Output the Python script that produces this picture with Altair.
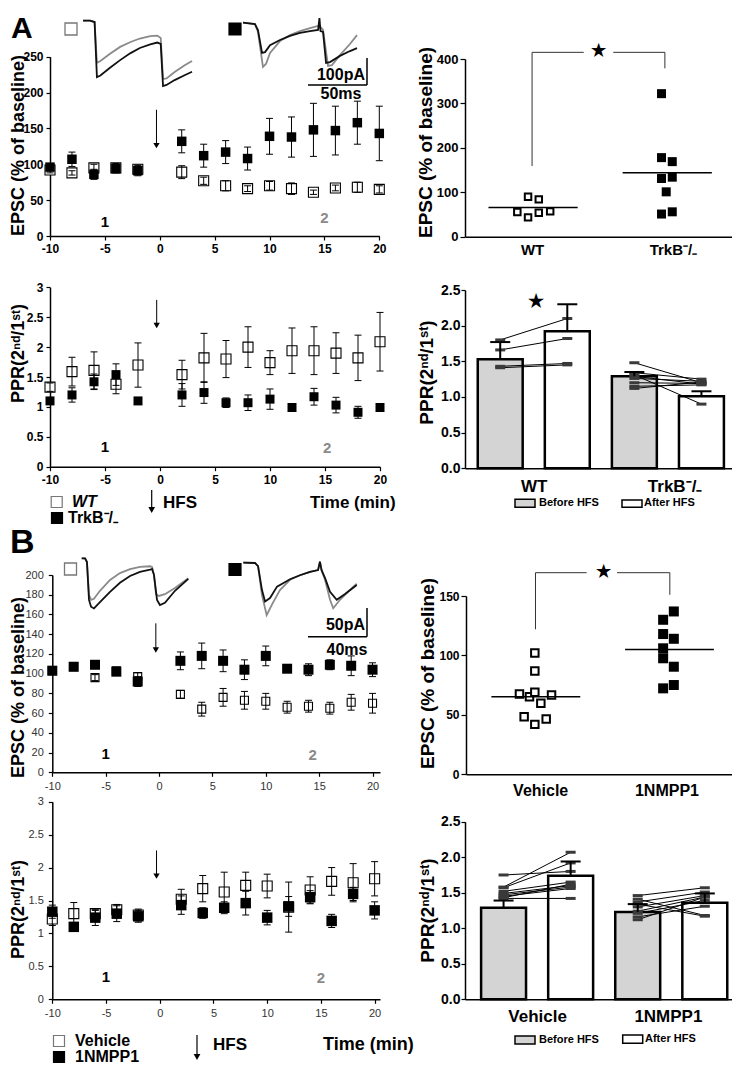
import altair as alt
import pandas as pd

FONT = "Liberation Sans"
W, H = 724, 1056
ONE = alt.InlineData(values=[{"k": 0}])

# ---------------- data ----------------
TIME = [-10, -8, -6, -4, -2, 2, 4, 6, 8, 10, 12, 14, 16, 18, 20]

A_EPSC_WT = [92, 88, 95, 95, 93, 89, 77, 70, 66, 70, 66, 61, 67, 68, 65]
A_EPSC_WT_SEM = [4, 3, 5, 6, 6, 9, 5, 7, 4, 6, 8, 3, 4, 7, 5]
A_EPSC_KO = [96, 107, 86, 94, 91, 132, 112, 117, 108, 139, 138, 148, 147, 158, 143]
A_EPSC_KO_SEM = [3, 10, 7, 6, 7, 16, 16, 16, 16, 25, 28, 37, 34, 30, 38]

A_PPR_WT = [1.33, 1.59, 1.61, 1.38, 1.70, 1.54, 1.82, 1.80, 2.00, 1.74, 1.94, 1.94, 1.90, 1.82, 2.09]
A_PPR_WT_SEM = [0.07, 0.24, 0.31, 0.16, 0.37, 0.24, 0.41, 0.31, 0.34, 0.20, 0.38, 0.40, 0.34, 0.38, 0.49]
A_PPR_KO = [1.10, 1.20, 1.42, 1.54, 1.10, 1.20, 1.24, 1.07, 1.07, 1.13, 0.99, 1.17, 1.03, 0.91, 0.99]
A_PPR_KO_SEM = [0.04, 0.12, 0.13, 0.18, 0.03, 0.19, 0.18, 0.08, 0.13, 0.17, 0.03, 0.14, 0.13, 0.10, 0.03]

B_EPSC_VEH = [103, 107, 96, 103, 97, 79, 64, 76, 73, 72, 66, 67, 65, 71, 70]
B_EPSC_VEH_SEM = [2, 2, 3, 2, 4, 4, 7, 9, 9, 8, 6, 6, 6, 8, 10]
B_EPSC_NM = [103, 107, 109, 102, 92, 113, 118, 113, 104, 118, 105, 104, 109, 108, 104]
B_EPSC_NM_SEM = [3, 3, 2, 2, 5, 9, 13, 11, 10, 10, 2, 6, 5, 10, 7]

B_PPR_VEH = [1.22, 1.30, 1.30, 1.36, 1.28, 1.52, 1.68, 1.63, 1.73, 1.72, 1.40, 1.66, 1.79, 1.77, 1.83]
B_PPR_VEH_SEM = [0.10, 0.17, 0.05, 0.08, 0.09, 0.15, 0.20, 0.30, 0.20, 0.18, 0.38, 0.20, 0.21, 0.29, 0.26]
B_PPR_NM = [1.33, 1.10, 1.24, 1.30, 1.26, 1.43, 1.31, 1.39, 1.46, 1.24, 1.41, 1.55, 1.19, 1.60, 1.35]
B_PPR_NM_SEM = [0.10, 0.04, 0.12, 0.12, 0.09, 0.14, 0.08, 0.09, 0.18, 0.11, 0.15, 0.10, 0.10, 0.10, 0.13]

# individual cells (scatter)
A_SC_WT = [90, 84, 55.5, 43.5, 54, 57]
A_SC_WT_DX = [-0.06, 0.10, -0.22, -0.06, 0.10, 0.27]
A_SC_KO = [322, 178, 169, 131, 134, 101, 51, 56]
A_SC_KO_DX = [-0.07, -0.07, 0.09, -0.07, 0.09, 0.0, -0.07, 0.09]
A_SC_MED = [66, 144]
B_SC_VEH = [102, 87, 67.6, 65.3, 69, 59.7, 66.7, 48.5, 46.5, 42]
B_SC_VEH_DX = [0, 0, -0.23, -0.08, 0, 0.09, 0.25, -0.16, 0.17, 0]
B_SC_NM = [137, 130, 118, 114, 106, 97.6, 90.5, 72.3, 75.1]
B_SC_NM_DX = [0.08, -0.08, -0.08, 0.08, -0.08, -0.08, 0.08, -0.08, 0.08]
B_SC_MED = [65.3, 105]

# PPR bars (before / after HFS)
A_BAR = [1.53, 1.92, 1.29, 1.01]
A_BAR_SEM = [0.24, 0.38, 0.06, 0.07]
A_PAIR_WT_PRE = [1.80, 1.66, 1.43, 1.41]
A_PAIR_WT_POST = [2.10, 1.82, 1.47, 1.45]
A_PAIR_KO_PRE = [1.48, 1.34, 1.31, 1.29, 1.26, 1.20, 1.15, 1.12]
A_PAIR_KO_POST = [1.20, 1.25, 0.90, 1.18, 1.22, 1.19, 1.17, 1.21]
B_BAR = [1.29, 1.74, 1.23, 1.36]
B_BAR_SEM = [0.10, 0.20, 0.11, 0.13]
B_PAIR_VEH_PRE = [1.75, 1.58, 1.57, 1.52, 1.49, 1.47, 1.45, 1.43, 1.42]
B_PAIR_VEH_POST = [1.80, 2.07, 1.92, 1.65, 1.60, 1.58, 1.56, 1.62, 1.42]
B_PAIR_NM_PRE = [1.46, 1.41, 1.37, 1.34, 1.30, 1.24, 1.21, 1.16, 1.12]
B_PAIR_NM_POST = [1.57, 1.18, 1.51, 1.17, 1.46, 1.44, 1.39, 1.31, 1.44]

# example EPSC traces (ms, pA)
TR_A_WT_T = [0, 6, 10, 12, 15, 23, 32, 41, 49, 58, 64, 67, 69, 72, 79, 88, 94]
TR_A_WT_BLACK = [0, 0, -5, -209, -203, -175, -146, -120, -101, -88, -81, -86, -242, -238, -220, -201, -189]
TR_A_WT_GRAY = [0, 0, -5, -156, -149, -123, -97, -79, -66, -57, -55, -64, -216, -214, -190, -164, -149]

TR_A_KO_BT = [0, 10.3, 12.9, 16.4, 19, 23.3, 31.9, 40.5, 49.1, 57.8, 64.7, 65.9, 66.8, 69, 71.6, 75, 83.6, 92.2, 98.3]
TR_A_KO_BLACK = [0, -5, -27, -112, -109, -83, -64, -49, -38, -31, -27, 17, -31, -34, -149, -146, -123, -105, -94]
TR_A_KO_GT = [0, 10.3, 12.9, 17.2, 19.8, 23.3, 31.9, 40.5, 49.1, 57.8, 64.7, 66.8, 69, 73.3, 76.7, 83.6, 92.2, 98.3]
TR_A_KO_GRAY = [0, -5, -34, -164, -153, -112, -68, -46, -31, -20, -12, -16, -27, -160, -157, -120, -79, -46]

TR_B_VEH_BT = [0, 2.3, 3.6, 5, 6.4, 8.4, 12.5, 19.4, 26.2, 33.1, 39.9, 46.8, 48.2, 49.5, 51.6, 53.6, 57, 63.9, 73]
TR_B_VEH_BLACK = [0, 0, -6.5, -73, -85, -88, -77, -59, -43, -31, -24, -20, -19, -29, -73, -82, -78, -57, -36]
TR_B_VEH_GT = [0, 2.3, 3.6, 5, 6.4, 8.4, 12.5, 19.4, 26.2, 33.1, 39.9, 46.8, 48.2, 49.5, 50.9, 52.9, 57, 63.9, 73]
TR_B_VEH_GRAY = [0, 0, -6.5, -64, -73, -71, -57, -38, -26, -19, -15, -14, -15, -29, -63, -66, -63, -52, -35]

TR_B_NM_BT = [0, 8, 10.1, 12.8, 14.9, 18.3, 23.1, 32, 38.8, 45.7, 51.2, 52.5, 53.6, 56, 59.4, 64, 69.7, 77.7]
TR_B_NM_BLACK = [0, -0.5, -6, -48, -68, -62, -42, -29, -22, -16, -13, 2, -13, -27, -51, -65, -55, -39]
TR_B_NM_GT = [0, 8, 10.1, 12.8, 16, 19.7, 25.1, 32, 38.8, 45.7, 51.2, 52.5, 53.6, 56, 59.4, 61.6, 66.2, 71.7, 77.7]
TR_B_NM_GRAY = [0, -0.5, -6, -57, -92, -73, -48, -30, -22, -16, -13, 1, -13, -30, -65, -80, -65, -51, -37]

EPSC_TITLE = "EPSC (% of baseline)"
PPR_TITLE = "PPR(2\u207f\u1d48/1\u02e2\u1d57)"
KO = "TrkB\u207b/\u208b"


# ---------------- helpers ----------------
def scale(dom, rng):
    return alt.Scale(domain=dom, range=rng, nice=False, zero=False)


def left_axis(x0, values, fmt, title, tx, ty, lsize, bold=True, lcolor="black", tsize=4, lpad=3, tfs=19):
    return alt.Axis(orient="left", offset=-x0, values=values, format=fmt, title=title,
                    titleX=tx, titleY=ty, titleAngle=270, titleAlign="center", titleBaseline="middle",
                    titleFont=FONT, titleFontSize=tfs, titleFontWeight="bold", titleColor="black",
                    labelFont=FONT, labelFontSize=lsize, labelFontWeight="bold" if bold else "normal",
                    labelColor=lcolor, labelPadding=lpad, labelFlush=False, labelOverlap=False,
                    domainColor="black", domainWidth=1.5, tickColor="black", tickSize=tsize,
                    tickWidth=1.2, grid=False)


def bottom_axis(y0, values, lsize, bold=True, lcolor="black", tsize=4, lpad=2, expr="datum.value + ''"):
    kw = dict(orient="bottom", offset=y0 - H, values=values, title="", labelFont=FONT,
              labelFontSize=lsize, labelFontWeight="bold" if bold else "normal", labelColor=lcolor,
              labelPadding=lpad, labelFlush=False, labelOverlap=False, domainColor="black",
              domainWidth=1.5, grid=False, labelExpr=expr)
    if tsize > 0:
        kw.update(ticks=True, tickSize=tsize, tickColor="black", tickWidth=1.2)
    else:
        kw.update(ticks=False, tickSize=0)
    return alt.Axis(**kw)


class P:
    """Panel scales + axes, shared by every layer of a panel."""
    def __init__(self, xs, ys, xa, ya):
        self.xs, self.ys, self.xa, self.ya = xs, ys, xa, ya

    def X(self, f):
        return alt.X(f, scale=self.xs, axis=self.xa)

    def Y(self, f):
        return alt.Y(f, scale=self.ys, axis=self.ya)

    def XD(self, v):
        return alt.XDatum(v, scale=self.xs, axis=self.xa)

    def YD(self, v):
        return alt.YDatum(v, scale=self.ys, axis=self.ya)


def dtext(p, s, x, y, size=15, color="black"):
    return alt.Chart(ONE).mark_text(text=s, font=FONT, fontSize=size, fontWeight="bold", color=color,
                                    align="center", baseline="middle").encode(x=p.XD(x), y=p.YD(y))


def time_panel(p, om, os_, fm, fs, osize, fsize, arrow, l1, l2):
    n = len(TIME)
    df = pd.DataFrame({"t": TIME + TIME, "m": om + fm, "s": os_ + fs, "g": ["o"] * n + ["f"] * n})
    base = alt.Chart(df).transform_calculate(lo="datum.m - datum.s", hi="datum.m + datum.s")
    opn = base.transform_filter("datum.g == 'o'").mark_square(
        size=osize, fill="white", stroke="black", strokeWidth=1.1, opacity=1).encode(
        x=p.X("t:Q"), y=p.Y("m:Q"))
    err = base.mark_rule(color="black", strokeWidth=1).encode(x=p.X("t:Q"), y=p.Y("lo:Q"), y2="hi:Q")
    cap1 = base.mark_tick(orient="horizontal", size=7, thickness=1, color="black", opacity=1).encode(
        x=p.X("t:Q"), y=p.Y("lo:Q"))
    cap2 = base.mark_tick(orient="horizontal", size=7, thickness=1, color="black", opacity=1).encode(
        x=p.X("t:Q"), y=p.Y("hi:Q"))
    fil = base.transform_filter("datum.g == 'f'").mark_square(size=fsize, color="black", opacity=1).encode(
        x=p.X("t:Q"), y=p.Y("m:Q"))
    aline = alt.Chart(ONE).mark_rule(color="black", strokeWidth=1).encode(
        x=p.XD(-0.3), y=p.YD(arrow[0]), y2=alt.Y2Datum(arrow[1]))
    ahead = alt.Chart(ONE).mark_point(shape="triangle-down", filled=True, size=40, color="black",
                                      opacity=1).encode(x=p.XD(-0.3), y=p.YD(arrow[1]))
    t1 = dtext(p, "1", l1[0], l1[1])
    t2 = dtext(p, "2", l2[0], l2[1], color="#8a8a8a")
    return alt.layer(opn, err, cap1, cap2, fil, aline, ahead, t1, t2)


def scatter_panel(p, va, dxa, vb, dxb, med, osize, fsize, segs, star):
    df = pd.DataFrame({"p": [1] * len(va) + [3] * len(vb), "dx": dxa + dxb, "v": va + vb,
                       "g": ["o"] * len(va) + ["f"] * len(vb)})
    base = alt.Chart(df).transform_calculate(xp="datum.p + datum.dx")
    opn = base.transform_filter("datum.g == 'o'").mark_square(
        size=osize, fill="white", stroke="black", strokeWidth=2, opacity=1).encode(
        x=p.X("xp:Q"), y=p.Y("v:Q"))
    fil = base.transform_filter("datum.g == 'f'").mark_square(size=fsize, color="black", opacity=1).encode(
        x=p.X("xp:Q"), y=p.Y("v:Q"))
    mdf = pd.DataFrame({"p": [1, 3], "m": med})
    meds = alt.Chart(mdf).transform_calculate(a="datum.p - 0.65", b="datum.p + 0.68").mark_rule(
        color="black", strokeWidth=1.5).encode(x=p.X("a:Q"), x2="b:Q", y=p.Y("m:Q"))
    sdf = pd.DataFrame({"xa": segs[0], "xb": segs[1], "ya": segs[2], "yb": segs[3]})
    br = alt.Chart(sdf).mark_rule(color="#333333", strokeWidth=1).encode(
        x=p.X("xa:Q"), x2="xb:Q", y=p.Y("ya:Q"), y2="yb:Q")
    st = dtext(p, "\u2605", star[0], star[1], size=17)
    return alt.layer(opn, fil, meds, br, st)


def bar_panel(p, means, sems, pre_a, post_a, pre_b, post_b, star=None):
    df = pd.DataFrame({"p": [1, 3, 5, 7], "m": means, "s": sems,
                       "c": ["before", "after", "before", "after"]})
    base = alt.Chart(df).transform_calculate(a="datum.p - 0.67", b="datum.p + 0.67",
                                             hi="datum.m + datum.s")
    before = base.transform_filter("datum.c == 'before'").mark_rect(
        fill="#d4d4d4", stroke="black", strokeWidth=2.5).encode(
        x=p.X("a:Q"), x2="b:Q", y=p.Y("m:Q"), y2=alt.Y2Datum(0))
    after = base.transform_filter("datum.c == 'after'").mark_rect(
        fill="white", stroke="black", strokeWidth=2.5).encode(
        x=p.X("a:Q"), x2="b:Q", y=p.Y("m:Q"), y2=alt.Y2Datum(0))
    err = base.mark_rule(color="black", strokeWidth=2).encode(x=p.X("p:Q"), y=p.Y("m:Q"), y2="hi:Q")
    cap = base.mark_tick(orient="horizontal", size=20, thickness=2, color="black", opacity=1).encode(
        x=p.X("p:Q"), y=p.Y("hi:Q"))
    rows = []
    for i, (a, b) in enumerate(zip(pre_a, post_a)):
        rows += [{"id": f"a{i}", "p": 1, "v": a}, {"id": f"a{i}", "p": 3, "v": b}]
    for i, (a, b) in enumerate(zip(pre_b, post_b)):
        rows += [{"id": f"b{i}", "p": 5, "v": a}, {"id": f"b{i}", "p": 7, "v": b}]
    ldf = pd.DataFrame(rows)
    lines = alt.Chart(ldf).mark_line(color="black", strokeWidth=1).encode(
        x=p.X("p:Q"), y=p.Y("v:Q"), detail="id:N")
    ends = alt.Chart(ldf).mark_tick(orient="horizontal", size=10, thickness=3, color="#3a3a3a",
                                    opacity=1).encode(x=p.X("p:Q"), y=p.Y("v:Q"))
    layers = [before, after, lines, ends, err, cap]
    if star:
        layers.append(dtext(p, "\u2605", star[0], star[1], size=18))
    return alt.layer(*layers)


def trace(tg, ig, tb, ib, xdom, xr, ydom, yr):
    xs = scale(xdom, xr)
    ys = scale(ydom, yr)
    g = alt.Chart(pd.DataFrame({"t": tg, "i": ig})).mark_line(color="#8a8a8a", strokeWidth=1.8).encode(
        x=alt.X("t:Q", scale=xs, axis=None), y=alt.Y("i:Q", scale=ys, axis=None))
    b = alt.Chart(pd.DataFrame({"t": tb, "i": ib})).mark_line(color="#111111", strokeWidth=1.8).encode(
        x=alt.X("t:Q", scale=xs, axis=None), y=alt.Y("i:Q", scale=ys, axis=None))
    return alt.layer(g, b)


def txt(s, x, y, size, align="left", style="normal", weight="bold", color="black"):
    return alt.Chart(ONE).mark_text(text=s, font=FONT, fontSize=size, fontWeight=weight, fontStyle=style,
                                    align=align, baseline="middle", color=color).encode(
        x=alt.value(x), y=alt.value(y))


def sq(x, y, size, fill, stroke, sw=1.2):
    return alt.Chart(ONE).mark_square(size=size, fill=fill, stroke=stroke, strokeWidth=sw, opacity=1).encode(
        x=alt.value(x), y=alt.value(y))


def hline(x1, x2, y, w=1.5):
    return alt.Chart(ONE).mark_rule(color="black", strokeWidth=w).encode(
        x=alt.value(x1), x2=alt.value(x2), y=alt.value(y))


def vline(x, y1, y2, w=1.5):
    return alt.Chart(ONE).mark_rule(color="black", strokeWidth=w).encode(
        x=alt.value(x), y=alt.value(y1), y2=alt.value(y2))


def head(x, y, size=50):
    return alt.Chart(ONE).mark_point(shape="triangle-down", filled=True, size=size, color="black",
                                     opacity=1).encode(x=alt.value(x), y=alt.value(y))


def box(x1, x2, y1, y2, fill):
    return alt.Chart(ONE).mark_rect(fill=fill, stroke="black", strokeWidth=1.5).encode(
        x=alt.value(x1), x2=alt.value(x2), y=alt.value(y1), y2=alt.value(y2))


# ---------------- panels ----------------
PPR_VALS = [0, 0.5, 1, 1.5, 2, 2.5, 3]
T_VALS = [-10, -5, 0, 5, 10, 15, 20]
BAR_VALS = [0, 0.5, 1.0, 1.5, 2.0, 2.5]

# A1
p = P(scale([-10, 20], [42, 371.3]), scale([0, 250], [228, 48.7]),
      bottom_axis(228, T_VALS, 12, lpad=3),
      left_axis(42, [0, 50, 100, 150, 200, 250], "d", EPSC_TITLE, -32, 137, 12, lpad=3, tfs=18))
pA1 = time_panel(p, A_EPSC_WT, A_EPSC_WT_SEM, A_EPSC_KO, A_EPSC_KO_SEM,
                 100, 90, (176, 126), (-5, 19.5), (15, 25))
# A2
p = P(scale([-10, 20], [42, 372]), scale([0, 3], [458.7, 279.3]),
      bottom_axis(458.7, T_VALS, 12, lpad=4),
      left_axis(42, PPR_VALS, "~g", PPR_TITLE, -32, 345, 12, lpad=3, tfs=18))
pA2 = time_panel(p, A_PPR_WT, A_PPR_WT_SEM, A_PPR_KO, A_PPR_KO_SEM,
                 100, 81, (2.79, 2.36), (-5, 0.33), (15.2, 0.31))
# B1
p = P(scale([-10, 20.7], [44.3, 372]), scale([0, 200], [764.3, 567]),
      bottom_axis(764.3, T_VALS, 11, bold=False, lcolor="#333333", lpad=4),
      left_axis(44.3, list(range(0, 201, 20)), "d", EPSC_TITLE, -34.3, 679, 11,
                bold=False, lcolor="#333333", lpad=5, tfs=18))
pB1 = time_panel(p, B_EPSC_VEH, B_EPSC_VEH_SEM, B_EPSC_NM, B_EPSC_NM_SEM,
                 64, 100, (151, 124), (-5, 19), (14.4, 17.5))
# B2
p = P(scale([-10, 20.5], [44.3, 372]), scale([0, 3], [991.3, 793.7]),
      bottom_axis(991.3, T_VALS, 11, bold=False, lcolor="#333333", lpad=4),
      left_axis(44.3, PPR_VALS, "~g", PPR_TITLE, -34.3, 901, 11, bold=False, lcolor="#333333",
                lpad=5, tfs=18))
pB2 = time_panel(p, B_PPR_VEH, B_PPR_VEH_SEM, B_PPR_NM, B_PPR_NM_SEM,
                 100, 110, (2.26, 1.87), (-5, 0.34), (15, 0.32))
# A3
p = P(scale([0, 4], [457, 725.3]), scale([0, 400], [228.7, 51]),
      bottom_axis(228.7, [1, 3.1], 15, tsize=0, lpad=6, expr=f"datum.value < 2 ? 'WT' : '{KO}'"),
      left_axis(457, [0, 100, 200, 300, 400], "d", EPSC_TITLE, -40, 134, 13, tsize=5, lpad=2))
pA3 = scatter_panel(p, A_SC_WT, A_SC_WT_DX, A_SC_KO, A_SC_KO_DX, A_SC_MED, 42, 81,
                    ([1.0, 1.0, 2.21, 2.98], [1.0, 1.77, 2.98, 2.98],
                     [159, 415, 415, 379], [415, 415, 415, 415]),
                    (1.99, 419))
# A4
p = P(scale([-0.05, 7.95], [457, 725.3]), scale([0, 2.5], [460.3, 282]),
      bottom_axis(460.3, [2, 6.2], 17, tsize=0, lpad=10, expr=f"datum.value < 4 ? 'WT' : '{KO}'"),
      left_axis(457, BAR_VALS, ".1f", PPR_TITLE, -39, 364, 14, tsize=4, lpad=1))
pA4 = bar_panel(p, A_BAR, A_BAR_SEM, A_PAIR_WT_PRE, A_PAIR_WT_POST, A_PAIR_KO_PRE, A_PAIR_KO_POST,
                star=(2.06, 2.33))
# B3
p = P(scale([-0.03, 3.97], [458, 725.3]), scale([0, 150], [766.3, 588]),
      bottom_axis(766.3, [1.08, 2.97], 16, tsize=0, lpad=8,
                  expr="datum.value < 2 ? 'Vehicle' : '1NMPP1'"),
      left_axis(458, [0, 50, 100, 150], "d", EPSC_TITLE, -39, 665, 12, tsize=5, lpad=2))
pB3 = scatter_panel(p, B_SC_VEH, B_SC_VEH_DX, B_SC_NM, B_SC_NM_DX, B_SC_MED, 56, 100,
                    ([1.01, 1.01, 2.23, 3.02], [1.01, 1.775, 3.02, 3.02],
                     [122, 169.6, 169.6, 151], [169.6, 169.6, 169.6, 169.6]),
                    (2.035, 170))
# B4
p = P(scale([-0.15, 7.85], [457, 725.3]), scale([0, 2.5], [991.3, 813.7]),
      bottom_axis(991.3, [2, 5.9], 17, tsize=0, lpad=9, expr="datum.value < 4 ? 'Vehicle' : '1NMPP1'"),
      left_axis(457, BAR_VALS, ".1f", PPR_TITLE, -38, 902, 14, tsize=4, lpad=1))
pB4 = bar_panel(p, B_BAR, B_BAR_SEM, B_PAIR_VEH_PRE, B_PAIR_VEH_POST, B_PAIR_NM_PRE, B_PAIR_NM_POST)

# traces
trA1 = trace(TR_A_WT_T, TR_A_WT_GRAY, TR_A_WT_T, TR_A_WT_BLACK, [0, 100], [75, 191], [-250, 0], [80.2, 12.7])
trA2 = trace(TR_A_KO_GT, TR_A_KO_GRAY, TR_A_KO_BT, TR_A_KO_BLACK, [0, 100], [235, 351], [-250, 0], [82.2, 14.7])
trB1 = trace(TR_B_VEH_GT, TR_B_VEH_GRAY, TR_B_VEH_BT, TR_B_VEH_BLACK, [0, 80], [73.7, 190.5], [-100, 0], [607.3, 550.3])
trB2 = trace(TR_B_NM_GT, TR_B_NM_GRAY, TR_B_NM_BT, TR_B_NM_BLACK, [0, 80], [235.3, 352.1], [-100, 0], [611.7, 554.7])

overlay = [
    txt("A", 3, 21, 30), txt("B", 2, 535, 34),
    sq(63, 21, 144, "white", "#777777", 1.3), sq(227, 21, 144, "black", "black"),
    sq(62.5, 561, 144, "white", "#777777", 1.3), sq(227, 561.5, 144, "black", "black"),
    # scale bars
    hline(300, 359, 77), vline(359, 50, 77),
    txt("100pA", 357, 67, 16, align="right"), txt("50ms", 333, 86, 16, align="center"),
    hline(300, 359, 628.7), vline(359, 600, 628.7),
    txt("50pA", 357, 617, 16, align="right"), txt("40ms", 339, 642, 16, align="center"),
    # legend A
    sq(48.7, 494, 121, "white", "#777777", 1.2), txt("WT", 64, 494, 16, style="italic"),
    sq(49, 510, 121, "black", "black"), txt(KO, 60, 510, 16),
    vline(143.7, 482, 503, 1.2), head(143.7, 502, 45), txt("HFS", 155, 495, 17),
    txt("Time (min)", 302, 495, 17),
    box(507, 527, 491.3, 499.3, "#d4d4d4"), txt("Before HFS", 531, 495.3, 11),
    box(614, 634, 492, 499.3, "white"), txt("After HFS", 636, 495.3, 11),
    # legend B
    sq(51, 1033, 121, "white", "#777777", 1.2), txt("Vehicle", 67, 1033, 16),
    sq(51, 1049, 121, "black", "black"), txt("1NMPP1", 67, 1049, 16),
    vline(189, 1027, 1050, 1.2), head(189, 1049, 45), txt("HFS", 205, 1037, 17),
    txt("Time (min)", 315, 1037, 18),
    box(507, 527, 1028, 1036, "#d4d4d4"), txt("Before HFS", 531, 1032, 11),
    box(614.7, 634.7, 1027, 1035.3, "white"), txt("After HFS", 637, 1031, 11),
]

chart = alt.layer(pA1, pA2, pA3, pA4, pB1, pB2, pB3, pB4, trA1, trA2, trB1, trB2, *overlay).resolve_scale(
    x="independent", y="independent"
).properties(
    width=W, height=H, padding=0, autosize=alt.AutoSizeParams(type="none")
).configure_view(strokeWidth=0).configure_text(font=FONT)

chart.save("out.html", embed_options={"renderer": "svg", "actions": False})
